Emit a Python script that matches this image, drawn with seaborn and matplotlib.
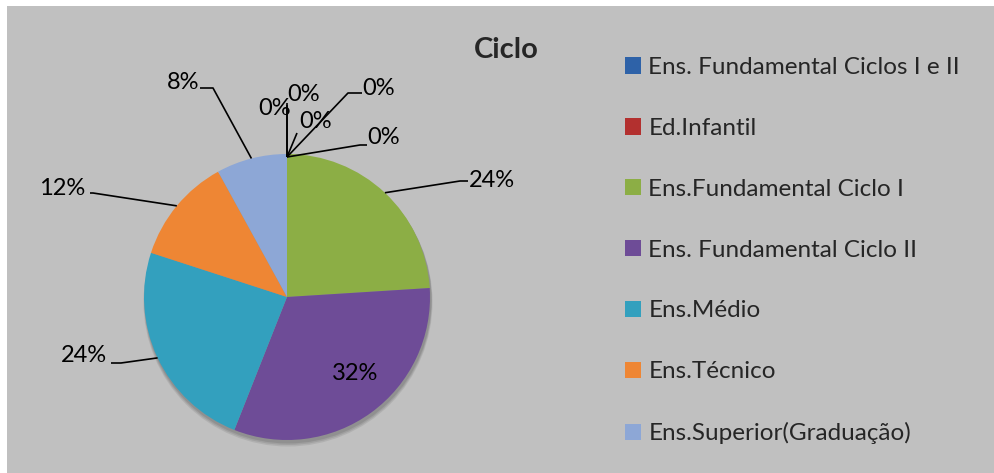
import matplotlib
matplotlib.use("Agg")
import matplotlib.pyplot as plt
import seaborn as sns
import numpy as np
from matplotlib.patches import Rectangle, Patch

# ---- data ----
categories = [
    "Ens. Fundamental Ciclos I e II",
    "Ed.Infantil",
    "Ens.Fundamental Ciclo I",
    "Ens. Fundamental Ciclo II",
    "Ens.Médio",
    "Ens.Técnico",
    "Ens.Superior(Graduação)",
]
values = [0, 0, 24, 32, 24, 12, 8]
# three further zero-valued categories are labelled on the pie but not in the legend
extra_zero_values = [0, 0, 0]
title = "Ciclo"

colors = ["#2E62A8", "#B3302F", "#8CAE45", "#6E4C97", "#33A0BE", "#EE8634", "#8DA7D6"]
extra_colors = ["#4F81BD", "#C0504D", "#9BBB59"]

sns.set_style("white")
plt.rcParams["font.family"] = ["Lato", "DejaVu Sans"]

W, H = 995, 473
fig = plt.figure(figsize=(W / 100, H / 100), dpi=100, facecolor="white")
fig.patches.append(Rectangle((7 / W, 0), 1 - 7 / W, 1 - 6 / H, transform=fig.transFigure,
                             facecolor="#C0C0C0", edgecolor="none", zorder=-5))
ax = fig.add_axes([0, 0, 1, 1])
ax.patch.set_alpha(0)

def Y(py):
    return H - py

cx, cy, R = 287, 297, 143
all_vals = values + extra_zero_values
all_cols = colors + extra_colors
# soft shadow under the pie
for k, a in [(3, 0.18), (2, 0.22), (1, 0.28)]:
    ax.add_patch(plt.Circle((cx + 1, Y(cy) - 2 - k), R + k * 0.5, color="#6a6a6a", alpha=a, zorder=1, lw=0))
wedges, _ = ax.pie(all_vals, colors=all_cols, startangle=90, counterclock=False,
                   center=(cx, Y(cy)), radius=R, wedgeprops=dict(linewidth=0, zorder=2))
ax.set_xlim(0, W)
ax.set_ylim(0, H)
ax.set_aspect("equal")
ax.axis("off")

total = sum(all_vals)

def edge_point(i):
    w = wedges[i]
    mid = np.deg2rad((w.theta1 + w.theta2) / 2)
    return cx + R * np.cos(mid), Y(cy) + R * np.sin(mid)

# label layout: (wedge index, elbow points in px, text position px)
label_layout = [
    (2, [(460, 181), (468, 181)], (492, 180)),
    (3, None, (355, 373)),
    (4, [(121, 363), (111, 363)], (84, 356)),
    (5, [(93, 193), (90, 193)], (62, 188)),
    (6, [(213, 88), (200, 88)], (183, 82)),
    (0, [(287, 105)], (275, 108)),
    (1, [(287, 103)], (304, 94)),
    (7, [(297, 133)], (316, 121)),
    (8, [(348, 93), (362, 93)], (379, 88)),
    (9, [(360, 145), (367, 145)], (384, 137)),
]
fs = 17
for i, elbows, (tx, ty) in label_layout:
    pct = all_vals[i] / total * 100
    txt = f"{pct:.0f}%"
    if elbows:
        if all_vals[i] == 0:
            sx, sy = cx, Y(cy - R + 3)
        else:
            sx, sy = edge_point(i)
        xs = [sx] + [p[0] for p in elbows]
        ys = [sy] + [Y(p[1]) for p in elbows]
        ax.plot(xs, ys, color="black", lw=1.2, zorder=3, solid_capstyle="butt")
    ax.text(tx, Y(ty), txt, fontsize=fs, ha="center", va="center", color="black", zorder=4)

ax.text(506, Y(50), title, fontsize=21, fontweight="bold", ha="center", va="center")

handles = [Patch(facecolor=c, edgecolor="none") for c in colors]
leg = ax.legend(handles, categories, loc="upper left", bbox_to_anchor=(625 / W, 1 - 57 / H),
                bbox_transform=fig.transFigure, frameon=False, fontsize=17.5,
                handlelength=0.66, handleheight=0.66, handletextpad=0.3,
                labelspacing=1.64, borderpad=0, borderaxespad=0)

fig.savefig("out.png", dpi=100, facecolor="white")
